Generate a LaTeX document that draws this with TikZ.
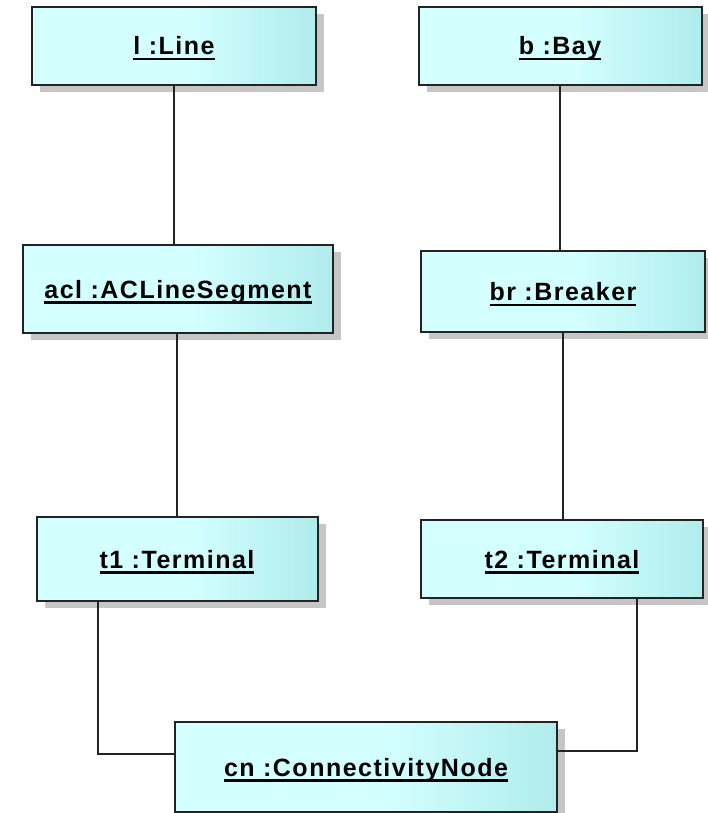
\documentclass[tikz,border=0pt]{standalone}
\usepackage{fontspec}
\newfontfamily\objfont{Liberation Sans}[LetterSpace=6]
\usetikzlibrary{calc, positioning, shadows}

\definecolor{objleft}{RGB}{212,255,255}
\definecolor{objright}{RGB}{176,236,236}
\definecolor{objedge}{RGB}{35,35,35}
\pgfdeclarehorizontalshading{objshade}{100bp}{color(0bp)=(objleft); color(52bp)=(objleft); color(75bp)=(objright); color(100bp)=(objright)}

% nome sublinhado do objeto
\newcommand{\objname}[1]{\setbox0=\hbox{#1}\rlap{\rule[-5.5pt]{\wd0}{2.4pt}}\box0}

\begin{document}
\begin{tikzpicture}[
    x=1pt, y=-1pt,
    obj/.style={draw=objedge, line width=2pt, shading=objshade, inner sep=0pt,
        text height=23pt, text depth=5pt,
        font=\objfont\bfseries\fontsize{25}{30}\selectfont,
        drop shadow={shadow xshift=8pt, shadow yshift=-7pt, fill=gray!45, opacity=1}},
    conn/.style={draw=objedge, line width=2pt}
]

    \useasboundingbox (0,0) rectangle (707,813);

    % 1. Objetos da coluna esquerda
    \node[obj, minimum width=284pt, minimum height=78pt] (line) at (174,46) {\objname{l :Line}};
    \node[obj, minimum width=310pt, minimum height=88pt] (acl) at (178,289) {\objname{acl :ACLineSegment}};
    \node[obj, minimum width=281pt, minimum height=84pt] (t1) at (177,559) {\objname{t1 :Terminal}};

    % 2. Objetos da coluna direita
    \node[obj, minimum width=283pt, minimum height=78pt] (bay) at (560,46) {\objname{b :Bay}};
    \node[obj, minimum width=284pt, minimum height=81pt] (br) at (563,291.5) {\objname{br :Breaker}};
    \node[obj, minimum width=282pt, minimum height=78pt] (t2) at (562,559) {\objname{t2 :Terminal}};

    % 3. No de conectividade
    \node[obj, minimum width=382pt, minimum height=90pt] (cn) at (366,767) {\objname{cn :ConnectivityNode}};

    % 4. Ligacoes
    \coordinate (kneeL) at (98,754);
    \coordinate (kneeR) at (637,751);

    \draw[conn] (line.south) -- (line.south |- acl.north);
    \draw[conn] (acl.south -| t1.north) -- (t1.north);
    \draw[conn] (bay.south) -- (bay.south |- br.north);
    \draw[conn] (br.south) -- (br.south |- t2.north);
    \draw[conn] (t1.south -| kneeL) |- (cn.west |- kneeL);
    \draw[conn] (t2.south -| kneeR) |- (cn.east |- kneeR);

\end{tikzpicture}
\end{document}
